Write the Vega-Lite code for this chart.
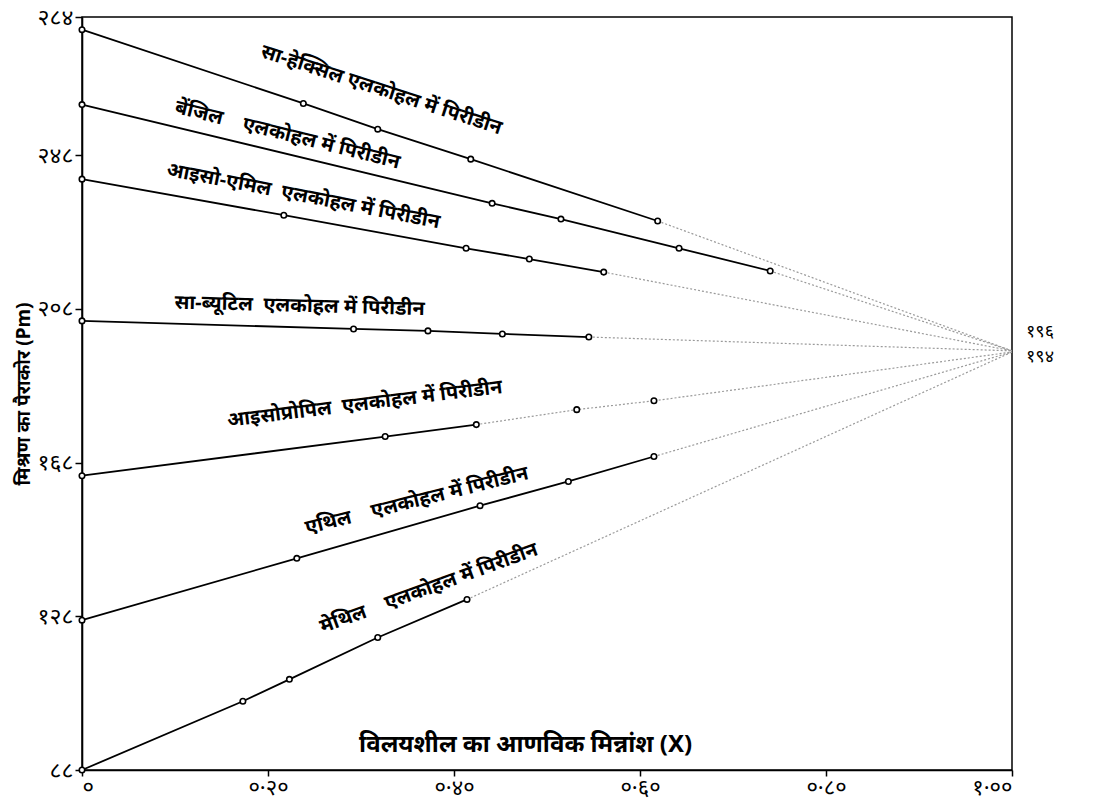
{
  "$schema": "https://vega.github.io/schema/vega-lite/v6.json",
  "width": 930,
  "height": 753,
  "autosize": "none",
  "padding": {"left": 82, "top": 17, "right": 88, "bottom": 31},
  "background": "white",
  "config": {
    "view": {"stroke": "black", "strokeWidth": 1.5},
    "font": "Noto Sans",
    "axis": {"grid": false, "domainColor": "black", "domainWidth": 1.6, "tickColor": "black", "tickWidth": 1.5, "labelColor": "black", "titleColor": "black", "labelFont": "Noto Sans", "titleFont": "Noto Sans"}
  },
  "datasets": {
    "obs": [
      {"s": "s1", "x": 0, "y": 280.7, "solid": true},
      {"s": "s1", "x": 0.238, "y": 261.5, "solid": true},
      {"s": "s1", "x": 0.318, "y": 254.8, "solid": true},
      {"s": "s1", "x": 0.418, "y": 247.0, "solid": true},
      {"s": "s1", "x": 0.619, "y": 230.9, "solid": true},
      {"s": "s2", "x": 0, "y": 261.2, "solid": true},
      {"s": "s2", "x": 0.441, "y": 235.5, "solid": true},
      {"s": "s2", "x": 0.515, "y": 231.4, "solid": true},
      {"s": "s2", "x": 0.642, "y": 223.8, "solid": true},
      {"s": "s2", "x": 0.74, "y": 217.9, "solid": true},
      {"s": "s3", "x": 0, "y": 241.8, "solid": true},
      {"s": "s3", "x": 0.217, "y": 232.4, "solid": true},
      {"s": "s3", "x": 0.413, "y": 223.8, "solid": true},
      {"s": "s3", "x": 0.481, "y": 221.0, "solid": true},
      {"s": "s3", "x": 0.561, "y": 217.6, "solid": true},
      {"s": "s4", "x": 0, "y": 204.9, "solid": true},
      {"s": "s4", "x": 0.292, "y": 202.8, "solid": true},
      {"s": "s4", "x": 0.372, "y": 202.3, "solid": true},
      {"s": "s4", "x": 0.452, "y": 201.5, "solid": true},
      {"s": "s4", "x": 0.545, "y": 200.7, "solid": true},
      {"s": "s5", "x": 0, "y": 164.6, "solid": true},
      {"s": "s5", "x": 0.326, "y": 174.8, "solid": true},
      {"s": "s5", "x": 0.424, "y": 177.9, "solid": true},
      {"s": "s5", "x": 0.532, "y": 181.8, "solid": false},
      {"s": "s5", "x": 0.615, "y": 184.1, "solid": false},
      {"s": "s6", "x": 0, "y": 127.0, "solid": true},
      {"s": "s6", "x": 0.231, "y": 143.1, "solid": true},
      {"s": "s6", "x": 0.428, "y": 156.8, "solid": true},
      {"s": "s6", "x": 0.523, "y": 163.1, "solid": true},
      {"s": "s6", "x": 0.615, "y": 169.6, "solid": true},
      {"s": "s7", "x": 0, "y": 88.0, "solid": true},
      {"s": "s7", "x": 0.173, "y": 105.9, "solid": true},
      {"s": "s7", "x": 0.223, "y": 111.6, "solid": true},
      {"s": "s7", "x": 0.318, "y": 122.5, "solid": true},
      {"s": "s7", "x": 0.414, "y": 132.4, "solid": true}
    ],
    "ext": [
      {"s": "s1", "x": 0.619, "y": 230.9},
      {"s": "s1", "x": 1.0, "y": 197.1},
      {"s": "s2", "x": 0.74, "y": 217.9},
      {"s": "s2", "x": 1.0, "y": 197.1},
      {"s": "s3", "x": 0.561, "y": 217.6},
      {"s": "s3", "x": 1.0, "y": 197.1},
      {"s": "s4", "x": 0.545, "y": 200.7},
      {"s": "s4", "x": 1.0, "y": 197.1},
      {"s": "s5", "x": 0.424, "y": 177.9},
      {"s": "s5", "x": 0.532, "y": 181.8},
      {"s": "s5", "x": 0.615, "y": 184.1},
      {"s": "s5", "x": 1.0, "y": 196.8},
      {"s": "s6", "x": 0.615, "y": 169.6},
      {"s": "s6", "x": 1.0, "y": 196.8},
      {"s": "s7", "x": 0.414, "y": 132.4},
      {"s": "s7", "x": 1.0, "y": 196.8}
    ]
  },
  "layer": [
    {
      "data": {"name": "ext"},
      "mark": {"type": "line", "color": "#9a9a9a", "strokeWidth": 1.2, "strokeDash": [2, 2]},
      "encoding": {
        "x": {"field": "x", "type": "quantitative", "scale": {"domain": [0, 1], "nice": false},
          "axis": {"values": [0, 0.2, 0.4, 0.6, 0.8, 1.0], "labelExpr": "datum.value == 0 ? '०' : datum.value < 0.3 ? '०·२०' : datum.value < 0.5 ? '०·४०' : datum.value < 0.7 ? '०·६०' : datum.value < 0.9 ? '०·८०' : '१·००'", "labelFontSize": 22, "tickSize": 6, "labelPadding": 1, "title": null}},
        "y": {"field": "y", "type": "quantitative", "scale": {"domain": [88, 284], "nice": false, "zero": false},
          "axis": {"values": [88, 128, 168, 208, 248, 284], "labelExpr": "datum.value == 88 ? '८८' : datum.value == 128 ? '१२८' : datum.value == 168 ? '१६८' : datum.value == 208 ? '२०८' : datum.value == 248 ? '२४८' : '२८४'", "labelFontSize": 23, "tickSize": 7, "labelPadding": 2, "title": "मिश्रण का पैराकोर (Pm)", "titleFontSize": 19, "titleFontWeight": "bold", "titlePadding": 4}},
        "detail": {"field": "s"}
      }
    },
    {
      "data": {"name": "obs"},
      "transform": [{"filter": "datum.solid"}],
      "mark": {"type": "line", "color": "black", "strokeWidth": 1.8},
      "encoding": {
        "x": {"field": "x", "type": "quantitative"},
        "y": {"field": "y", "type": "quantitative"},
        "detail": {"field": "s"}
      }
    },
    {
      "data": {"name": "obs"},
      "mark": {"type": "point", "shape": "circle", "filled": false, "fill": "white", "stroke": "black", "strokeWidth": 1.6, "size": 30, "opacity": 1},
      "encoding": {
        "x": {"field": "x", "type": "quantitative"},
        "y": {"field": "y", "type": "quantitative"}
      }
    },
    {
      "data": {"values": [{"x": 0.322, "y": 265.0, "t": "सा-हेक्सिल एलकोहल में पिरीडीन"}]},
      "mark": {"type": "text", "angle": 18, "fontSize": 20, "fontWeight": "bold", "color": "black"},
      "encoding": {"x": {"field": "x", "type": "quantitative"}, "y": {"field": "y", "type": "quantitative"}, "text": {"field": "t"}}
    },
    {
      "data": {"values": [{"x": 0.221, "y": 253.3, "t": "बेंजिल\u00a0\u00a0\u00a0 एलकोहल में पिरीडीन"}]},
      "mark": {"type": "text", "angle": 14, "fontSize": 20, "fontWeight": "bold", "color": "black"},
      "encoding": {"x": {"field": "x", "type": "quantitative"}, "y": {"field": "y", "type": "quantitative"}, "text": {"field": "t"}}
    },
    {
      "data": {"values": [{"x": 0.238, "y": 237.4, "t": "आइसो-एमिल\u00a0 एलकोहल में पिरीडीन"}]},
      "mark": {"type": "text", "angle": 11, "fontSize": 20, "fontWeight": "bold", "color": "black"},
      "encoding": {"x": {"field": "x", "type": "quantitative"}, "y": {"field": "y", "type": "quantitative"}, "text": {"field": "t"}}
    },
    {
      "data": {"values": [{"x": 0.234, "y": 208.8, "t": "सा-ब्यूटिल\u00a0 एलकोहल में पिरीडीन"}]},
      "mark": {"type": "text", "angle": 1.5, "fontSize": 20, "fontWeight": "bold", "color": "black"},
      "encoding": {"x": {"field": "x", "type": "quantitative"}, "y": {"field": "y", "type": "quantitative"}, "text": {"field": "t"}}
    },
    {
      "data": {"values": [{"x": 0.304, "y": 183.3, "t": "आइसोप्रोपिल\u00a0 एलकोहल में पिरीडीन"}]},
      "mark": {"type": "text", "angle": -7, "fontSize": 20, "fontWeight": "bold", "color": "black"},
      "encoding": {"x": {"field": "x", "type": "quantitative"}, "y": {"field": "y", "type": "quantitative"}, "text": {"field": "t"}}
    },
    {
      "data": {"values": [{"x": 0.36, "y": 158.1, "t": "एथिल\u00a0\u00a0\u00a0 एलकोहल में पिरीडीन"}]},
      "mark": {"type": "text", "angle": -14, "fontSize": 20, "fontWeight": "bold", "color": "black"},
      "encoding": {"x": {"field": "x", "type": "quantitative"}, "y": {"field": "y", "type": "quantitative"}, "text": {"field": "t"}}
    },
    {
      "data": {"values": [{"x": 0.373, "y": 135.3, "t": "मेथिल\u00a0\u00a0\u00a0 एलकोहल में पिरीडीन"}]},
      "mark": {"type": "text", "angle": -20, "fontSize": 20, "fontWeight": "bold", "color": "black"},
      "encoding": {"x": {"field": "x", "type": "quantitative"}, "y": {"field": "y", "type": "quantitative"}, "text": {"field": "t"}}
    },
    {
      "data": {"values": [{"x": 0.477, "y": 94.5, "t": "विलयशील का आणविक मिन्नांश (X)"}]},
      "mark": {"type": "text", "fontSize": 24, "fontWeight": "bold", "color": "black"},
      "encoding": {"x": {"field": "x", "type": "quantitative"}, "y": {"field": "y", "type": "quantitative"}, "text": {"field": "t"}}
    },
    {
      "data": {"values": [{"x": 1.0, "y": 201.9, "t": "१९६"}, {"x": 1.0, "y": 195.4, "t": "१९४"}]},
      "mark": {"type": "text", "align": "left", "dx": 14, "fontSize": 18, "color": "black", "clip": false},
      "encoding": {"x": {"field": "x", "type": "quantitative"}, "y": {"field": "y", "type": "quantitative"}, "text": {"field": "t"}}
    }
  ]
}
